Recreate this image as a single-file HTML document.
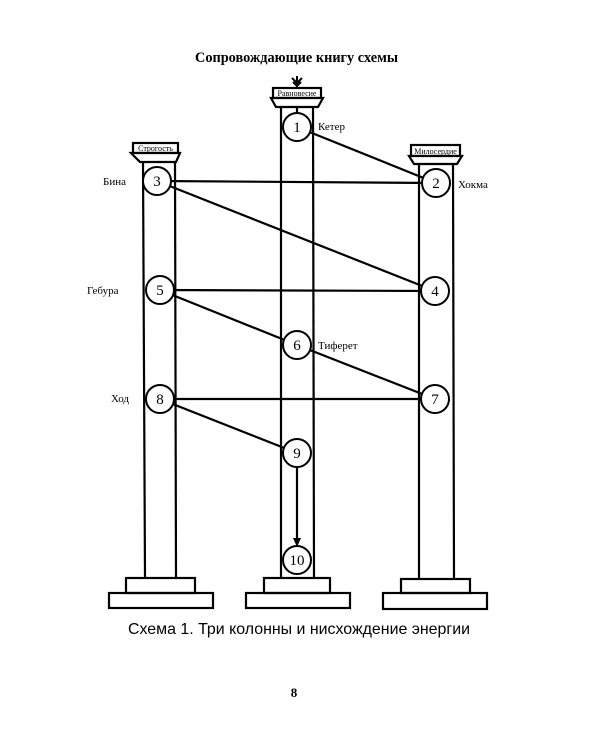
<!DOCTYPE html>
<html><head><meta charset="utf-8"><style>
html,body{margin:0;padding:0;background:#fff;}
svg{display:block}
</style></head><body>
<svg width="600" height="750" viewBox="0 0 600 750" xmlns="http://www.w3.org/2000/svg">
<rect width="600" height="750" fill="#fff"/>
<text x="195" y="62" textLength="203" lengthAdjust="spacingAndGlyphs" font-family="Liberation Serif, serif" font-weight="bold" font-size="15" fill="#000">Сопровождающие книгу схемы</text>
<g stroke="#000" stroke-width="2.2" fill="none">
<rect x="133" y="143" width="45" height="10" fill="#fff"/>
<path d="M131 153 H180 L176 162 H140 Z" fill="#fff"/>
<line x1="143" y1="162" x2="145" y2="578"/>
<line x1="175" y1="162" x2="176" y2="578"/>
<rect x="126" y="578" width="69" height="15"/>
<rect x="109" y="593" width="104" height="15"/>
<rect x="273" y="88" width="48" height="10" fill="#fff"/>
<path d="M271 98 H323 L318 107 H276 Z" fill="#fff"/>
<line x1="281" y1="107" x2="281" y2="578"/>
<line x1="313" y1="107" x2="314" y2="578"/>
<line x1="297" y1="107" x2="297" y2="113"/>
<rect x="264" y="578" width="66" height="15"/>
<rect x="246" y="593" width="104" height="15"/>
<rect x="411" y="145" width="49" height="11" fill="#fff"/>
<path d="M409 156 H462 L457 164 H414 Z" fill="#fff"/>
<line x1="419" y1="164" x2="419" y2="578"/>
<line x1="453" y1="164" x2="454" y2="578"/>
<rect x="401" y="579" width="69" height="14"/>
<rect x="383" y="593" width="104" height="16"/>
<line x1="297" y1="127" x2="436" y2="183"/>
<line x1="436" y1="183" x2="157" y2="181"/>
<line x1="157" y1="181" x2="435" y2="291"/>
<line x1="435" y1="291" x2="160" y2="290"/>
<line x1="160" y1="290" x2="297" y2="345"/>
<line x1="297" y1="345" x2="435" y2="399"/>
<line x1="435" y1="399" x2="160" y2="399"/>
<line x1="160" y1="399" x2="297" y2="453"/>
<line x1="297" y1="453" x2="297" y2="541"/>
</g>
<path d="M297 547 L293 538 L301 538 Z" fill="#000"/>
<path d="M297 88 L297 76 M292 78 L297 83 L302 78 M293 82 L297 86 L301 82" stroke="#000" stroke-width="2" fill="none"/>
<g stroke="#000" stroke-width="2" fill="#fff">
<circle cx="297" cy="127" r="14"/>
<circle cx="436" cy="183" r="14"/>
<circle cx="157" cy="181" r="14"/>
<circle cx="435" cy="291" r="14"/>
<circle cx="160" cy="290" r="14"/>
<circle cx="297" cy="345" r="14"/>
<circle cx="435" cy="399" r="14"/>
<circle cx="160" cy="399" r="14"/>
<circle cx="297" cy="453" r="14"/>
<circle cx="297" cy="560" r="14"/>
</g>
<g font-family="Liberation Serif, serif" font-size="15" text-anchor="middle" fill="#000">
<text x="297" y="132">1</text>
<text x="436" y="188">2</text>
<text x="157" y="186">3</text>
<text x="435" y="296">4</text>
<text x="160" y="295">5</text>
<text x="297" y="350">6</text>
<text x="435" y="404">7</text>
<text x="160" y="404">8</text>
<text x="297" y="458">9</text>
<text x="297" y="565">10</text>
</g>
<g font-family="Liberation Serif, serif" font-size="8" text-anchor="middle" fill="#000">
<text x="155.5" y="151">Строгость</text>
<text x="297" y="96">Равновесие</text>
<text x="435.5" y="154">Милосердие</text>
</g>
<g font-family="Liberation Serif, serif" font-size="11" fill="#000">
<text x="318" y="130">Кетер</text>
<text x="458" y="188">Хокма</text>
<text x="103" y="185">Бина</text>
<text x="87" y="294">Гебура</text>
<text x="318" y="349">Тиферет</text>
<text x="111" y="402">Ход</text>
</g>
<text x="128" y="634" textLength="342" lengthAdjust="spacingAndGlyphs" font-family="Liberation Sans, sans-serif" font-size="16" fill="#000">Схема 1. Три колонны и нисхождение энергии</text>
<text x="294" y="697" text-anchor="middle" font-family="Liberation Serif, serif" font-weight="bold" font-size="13" fill="#000">8</text>
</svg>
</body></html>
